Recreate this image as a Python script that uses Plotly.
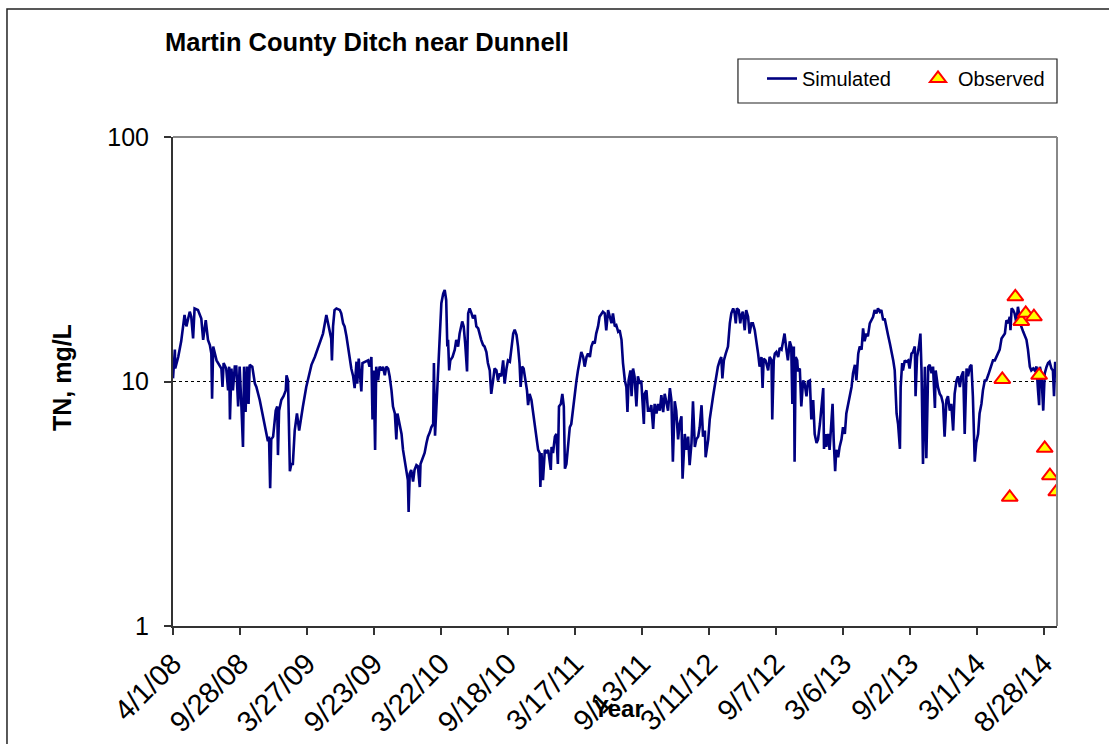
import pandas as pd
import plotly.graph_objects as go

# ---------------- data ----------------
start = pd.Timestamp("2008-04-01")

# simulated TN: days since 4/1/08 and value (mg/L)
sim_day = [
    0, 5, 6, 14, 22, 31, 36, 45, 49, 54, 58, 67, 76, 81, 88, 94, 99, 103, 105, 108,
    117, 125, 130, 133, 136, 143, 148, 151, 153, 157, 161, 166, 170, 175, 179, 184, 188, 191, 195, 199,
    203, 206, 213, 220, 224, 233, 242, 251, 255, 258, 261, 264, 269, 276, 280, 282, 285, 291, 297, 303,
    305, 309, 314, 318, 322, 327, 333, 339, 345, 349, 358, 363, 372, 381, 390,
    394, 403, 412, 417, 421, 425, 427, 430, 434, 439, 448, 452, 457, 461, 466, 470, 475, 479, 484, 488,
    493, 495, 499, 502, 506, 509, 515, 524, 528, 533, 536, 539, 543, 546, 551, 555, 560, 564, 569, 573,
    578, 582, 587, 591, 596, 600, 603, 609, 614, 618, 622, 627, 631, 633, 636, 640, 645, 649, 654, 658,
    663, 665, 672, 676, 681, 685, 690, 694, 699, 701, 704, 708, 712, 717, 721, 726, 730, 734, 737, 739,
    742, 745, 751, 757, 761, 766, 770, 777, 781, 785, 790, 793, 797, 802, 806, 811, 815, 820, 824, 828,
    833, 837, 842, 846,
    851, 855, 860, 864, 869, 873, 878, 882, 887, 891, 896, 900, 905, 909, 914, 918, 923, 927, 931, 934,
    938, 942, 947, 951, 954, 958, 963, 967, 972, 976, 981, 985, 987, 990, 994, 999, 1003, 1008, 1012, 1015,
    1017, 1021, 1026, 1030, 1034, 1037, 1042, 1046, 1050, 1053, 1057, 1061, 1066, 1070, 1075, 1079, 1084, 1088, 1093, 1097,
    1102, 1106, 1111, 1115, 1120, 1124, 1129, 1133, 1137, 1142, 1146, 1151, 1155, 1160, 1164, 1169, 1173, 1178, 1182, 1187,
    1191, 1196, 1200, 1205, 1209, 1214, 1218, 1221, 1224, 1229, 1232, 1236, 1240, 1245, 1249, 1254, 1258, 1261, 1265, 1267,
    1272, 1276,
    1281, 1285, 1290, 1294, 1299, 1303, 1308, 1312, 1317, 1321, 1326, 1330, 1335, 1339, 1343, 1348, 1352, 1357, 1361, 1366,
    1369, 1372, 1375, 1379, 1384, 1388, 1393, 1397, 1402, 1406, 1411, 1415, 1420, 1424, 1429, 1431, 1438, 1442, 1446, 1451,
    1455, 1460, 1464, 1469, 1473, 1476, 1480, 1485, 1491, 1496, 1500, 1505, 1509, 1512, 1515, 1520, 1524, 1527, 1531, 1536,
    1540, 1545, 1549, 1554, 1558, 1563, 1567, 1572, 1576, 1581, 1584, 1587, 1592, 1599, 1603, 1608, 1610, 1614, 1617, 1621,
    1626, 1630, 1635, 1639, 1643, 1648, 1652, 1657, 1661, 1664, 1668, 1670, 1673, 1677, 1679, 1684, 1688, 1693, 1697, 1702,
    1706,
    1711, 1715, 1720, 1724, 1729, 1733, 1738, 1742, 1747, 1749, 1753, 1755, 1760, 1764, 1769, 1772, 1775, 1779, 1782, 1787,
    1791, 1796, 1800, 1805, 1809, 1814, 1818, 1823, 1827, 1832, 1836, 1841, 1845, 1850, 1854, 1858, 1863, 1867, 1872, 1876,
    1881, 1885, 1890, 1894, 1899, 1903, 1908, 1912, 1917, 1921, 1926, 1930, 1935, 1939, 1944, 1948, 1953, 1955, 1959, 1961,
    1966, 1970, 1975, 1979, 1984, 1988, 1993, 1995, 1999, 2004, 2008, 2011, 2015, 2020, 2024, 2029, 2033, 2038, 2042, 2047,
    2049, 2055, 2060,
    2064, 2069, 2073, 2078, 2082, 2087, 2091, 2096, 2100, 2105, 2109, 2114, 2118, 2123, 2127, 2132, 2136, 2141, 2145, 2149,
    2154, 2158, 2163, 2167, 2172, 2176, 2181, 2185, 2190, 2194, 2199, 2203, 2208, 2212, 2217, 2221, 2226, 2230, 2235, 2239,
    2244, 2248, 2250, 2253, 2257, 2261, 2266, 2270, 2275, 2279, 2284, 2288, 2293, 2297, 2302, 2306, 2311, 2315, 2320, 2324,
    2327, 2329, 2333, 2338, 2342, 2347, 2351, 2355, 2360, 2364, 2367, 2370, 2373,
]

sim_tn = [
    10.3, 13.5, 11.3, 12.6, 14.6, 18.7, 16.8, 19.3, 18.4, 15.0, 19.9, 19.6, 18.1, 14.8, 17.8, 14.8, 14.1, 13.0, 8.5, 13.9,
    12.2, 11.7, 11.3, 9.5, 11.9, 11.3, 9.2, 11.5, 7.0, 11.3, 9.2, 11.5, 11.5, 7.9, 11.5, 7.8, 5.4, 11.5, 7.5, 11.5,
    8.1, 11.7, 11.5, 9.8, 9.5, 8.4, 7.2, 6.1, 5.7, 5.95, 3.66, 5.8, 5.95, 7.6, 7.9, 5.0, 7.6, 8.4, 8.7, 9.2,
    10.6, 10.1, 4.3, 4.6, 4.6, 6.3, 7.4, 6.3, 7.4, 7.9, 9.5, 10.3, 11.7, 12.6, 13.9,
    14.3, 15.7, 18.7, 17.3, 16.2, 15.0, 12.2, 16.8, 19.6, 19.9, 19.6, 19.0, 17.3, 16.8, 15.3, 13.9, 12.4, 11.3, 10.5, 9.4,
    12.05, 9.8, 12.4, 11.1, 9.1, 11.9, 12.05, 12.2, 11.5, 12.6, 7.0, 11.1, 5.25, 11.5, 10.1, 11.5, 11.1, 11.5, 10.6, 11.5,
    11.3, 10.5, 9.2, 7.9, 7.4, 5.8, 7.4, 6.7, 6.1, 5.25, 4.8, 4.35, 3.95, 2.93, 4.2, 4.35, 3.9, 4.35, 4.55, 4.5,
    3.7, 4.6, 4.9, 5.1, 5.6, 5.95, 6.2, 6.5, 6.7, 11.9, 6.0, 7.9, 10.8, 16.2, 20.9, 22.9, 23.7, 21.5, 13.9, 14.8,
    11.1, 12.2, 12.6, 13.5, 14.8, 13.9, 15.7, 17.6, 16.8, 14.3, 11.0, 19.0, 19.9, 19.0, 18.1, 18.7, 16.8, 16.5, 15.5, 14.8,
    14.1, 13.9, 13.2, 11.9,
    11.1, 8.9, 10.1, 11.3, 11.1, 10.1, 10.8, 10.5, 12.2, 9.8, 11.3, 12.2, 12.05, 13.9, 15.7, 16.3, 15.5, 13.9, 11.9, 9.5,
    11.5, 11.3, 10.1, 9.2, 8.0, 8.9, 8.4, 7.6, 6.7, 5.95, 5.25, 5.1, 3.7, 5.1, 3.95, 5.25, 5.1, 5.25, 4.8, 4.35,
    5.4, 5.1, 5.95, 6.1, 4.6, 7.9, 8.1, 8.9, 7.9, 4.4, 4.6, 5.4, 6.5, 6.7, 7.9, 8.9, 10.1, 11.1, 12.2, 13.2,
    12.6, 11.5, 12.6, 13.0, 12.6, 13.9, 14.6, 14.3, 15.7, 16.8, 18.4, 19.0, 19.3, 19.0, 16.2, 19.6, 18.4, 17.3, 19.0, 16.8,
    17.0, 16.0, 16.2, 14.8, 11.9, 10.1, 9.5, 7.5, 10.1, 11.1, 8.7, 11.3, 10.5, 7.9, 10.5, 9.8, 10.1, 8.4, 6.7, 8.9,
    9.2, 7.6,
    7.6, 8.0, 6.4, 8.1, 7.4, 8.1, 7.6, 8.8, 7.5, 8.9, 8.1, 7.6, 9.4, 8.4, 4.7, 8.3, 7.6, 5.8, 6.7, 7.2,
    4.0, 5.4, 6.1, 5.25, 5.95, 4.55, 5.6, 8.3, 5.4, 5.8, 5.95, 6.5, 8.0, 5.95, 6.3, 4.9, 5.8, 7.0, 7.9, 8.7,
    9.5, 10.8, 11.5, 12.2, 12.6, 10.3, 12.2, 13.0, 13.9, 17.3, 19.0, 19.9, 19.0, 17.3, 19.9, 19.6, 17.3, 18.7, 19.3, 16.2,
    19.6, 18.4, 15.7, 17.3, 17.3, 16.2, 14.8, 13.0, 11.5, 12.6, 9.4, 12.4, 12.2, 11.1, 12.6, 12.2, 7.0, 12.2, 13.0, 13.2,
    12.6, 13.7, 13.5, 14.6, 15.7, 13.5, 12.2, 14.6, 13.9, 8.1, 13.9, 4.7, 12.6, 12.2, 11.0, 11.3, 7.9, 10.1, 9.8, 8.7,
    10.0,
    10.1, 7.0, 8.4, 6.1, 5.6, 5.8, 6.7, 8.1, 9.4, 5.3, 6.1, 5.4, 6.1, 5.25, 7.0, 8.1, 5.8, 4.3, 5.25, 4.9,
    5.4, 5.8, 6.5, 6.1, 7.4, 8.1, 8.9, 9.5, 10.8, 11.7, 10.1, 13.0, 13.9, 13.5, 16.5, 14.6, 15.7, 15.3, 17.3, 17.8,
    18.4, 19.6, 19.0, 19.9, 19.3, 19.6, 17.8, 18.1, 16.2, 15.5, 14.3, 13.5, 12.2, 11.1, 7.4, 6.7, 5.3, 9.5, 11.9, 11.1,
    12.2, 12.05, 12.2, 11.3, 13.0, 13.2, 13.9, 8.7, 12.6, 13.9, 15.7, 11.1, 4.6, 11.5, 4.85, 11.5, 11.7, 10.8, 11.5, 7.8,
    11.1, 9.5, 8.9,
    8.7, 8.1, 5.95, 8.4, 8.7, 7.6, 8.1, 6.3, 8.9, 10.1, 10.5, 9.5, 10.5, 11.0, 6.1, 11.3, 10.5, 11.5, 11.7, 8.7,
    4.7, 5.6, 6.1, 7.4, 8.1, 9.2, 10.1, 10.1, 10.6, 11.1, 11.9, 12.2, 12.2, 12.6, 13.2, 13.5, 15.0, 15.3, 15.7, 17.8,
    17.3, 18.4, 16.2, 19.9, 19.6, 19.0, 17.3, 20.2, 18.4, 16.8, 16.0, 15.3, 14.8, 13.5, 11.5, 11.1, 11.3, 11.1, 11.5, 9.2,
    8.0, 11.5, 10.8, 7.6, 10.8, 11.5, 11.9, 12.05, 11.3, 11.1, 8.7, 11.9, 11.9,
]

# observed TN samples
obs_date = ["2014-05-08", "2014-05-28", "2014-06-12", "2014-06-28", "2014-07-10",
            "2014-08-01", "2014-08-15", "2014-08-30", "2014-09-13", "2014-09-30"]
obs_tn = [10.2, 3.36, 22.2, 17.6, 19.0, 18.4, 10.6, 5.33, 4.12, 3.54]

# axis ticks
x_tick_labels = ["4/1/08", "9/28/08", "3/27/09", "9/23/09", "3/22/10", "9/18/10", "3/17/11",
                 "9/13/11", "3/11/12", "9/7/12", "3/6/13", "9/2/13", "3/1/14", "8/28/14"]
y_tick_vals = [1, 10, 100]
y_tick_labels = ["1", "10", "100"]
x_range = ["2008-04-01", "2014-10-02"]

# ---------------- figure ----------------
sim_dates = start + pd.to_timedelta(sim_day, unit="D")
x_tick_dates = pd.to_datetime(x_tick_labels, format="%m/%d/%y")

FONT = "Arial, 'Liberation Sans', sans-serif"

fig = go.Figure()
fig.add_trace(go.Scatter(
    x=sim_dates, y=sim_tn, mode="lines", name="Simulated",
    line=dict(color="#000080", width=2.6),
))
fig.add_trace(go.Scatter(
    x=pd.to_datetime(obs_date), y=obs_tn, mode="markers", name="Observed",
    marker=dict(symbol="triangle-up", size=14, color="#FFFF00",
                line=dict(color="#FF0000", width=2)),
))

fig.update_layout(
    width=1109, height=744,
    margin=dict(l=173, r=52, t=137, b=118),
    paper_bgcolor="white", plot_bgcolor="white",
    font=dict(family=FONT, color="black"),
    showlegend=True,
    legend=dict(
        orientation="h", x=0.6663, y=1.1595, xanchor="left", yanchor="top",
        borderwidth=0, bgcolor="rgba(0,0,0,0)",
        entrywidth=111, entrywidthmode="pixels",
        font=dict(size=20, family=FONT),
    ),
    xaxis=dict(
        type="date", range=x_range, automargin=False,
        tickvals=x_tick_dates, ticktext=x_tick_labels, tickangle=-45,
        ticks="outside", ticklen=7, tickwidth=1.5, tickcolor="#333",
        showline=True, linecolor="#333", linewidth=2,
        showgrid=False, zeroline=False,
        tickfont=dict(size=29, family=FONT),
    ),
    yaxis=dict(
        type="log", range=[0, 2], automargin=False,
        tickvals=y_tick_vals, ticktext=y_tick_labels,
        ticks="outside", ticklen=7, tickwidth=1.5, tickcolor="#333",
        ticklabelstandoff=10,
        showline=True, linecolor="#333", linewidth=2,
        showgrid=True, gridcolor="black", griddash="dot", gridwidth=1,
        zeroline=False,
        tickfont=dict(size=25, family=FONT),
    ),
    shapes=[
        # plot-area border (top and right, gray)
        dict(type="line", xref="paper", yref="paper", x0=0, x1=1, y0=1, y1=1,
             line=dict(color="#888888", width=2), layer="above"),
        dict(type="line", xref="paper", yref="paper", x0=1, x1=1, y0=0, y1=1,
             line=dict(color="#888888", width=2), layer="above"),
        # legend frame
        dict(type="rect", xref="paper", yref="paper", x0=0.6391, x1=1.0, y0=1.0695, y1=1.1595,
             line=dict(color="#222222", width=1.2), fillcolor="white", layer="below"),
        # outer chart border
        dict(type="rect", xref="paper", yref="paper", x0=-0.1878, x1=1.2, y0=-0.6, y1=1.2618,
             line=dict(color="#222222", width=1.5), layer="below"),
    ],
    annotations=[
        dict(text="<b>Martin County Ditch near Dunnell</b>", xref="paper", yref="paper",
             x=-0.0113, y=1.1943, xanchor="left", yanchor="middle", showarrow=False,
             font=dict(size=25.5, family=FONT, color="black")),
        dict(text="<b>TN, mg/L</b>", xref="paper", yref="paper",
             x=-0.1256, y=0.509, xanchor="center", yanchor="middle", textangle=-90,
             showarrow=False, font=dict(size=25, family=FONT, color="black")),
        dict(text="<b>Year</b>", xref="paper", yref="paper",
             x=0.5045, y=-0.1697, xanchor="center", yanchor="middle", showarrow=False,
             font=dict(size=24, family=FONT, color="black")),
    ],
)

fig.write_html("out.html", config={"displayModeBar": False},
               post_script="document.body.style.margin='0';")
